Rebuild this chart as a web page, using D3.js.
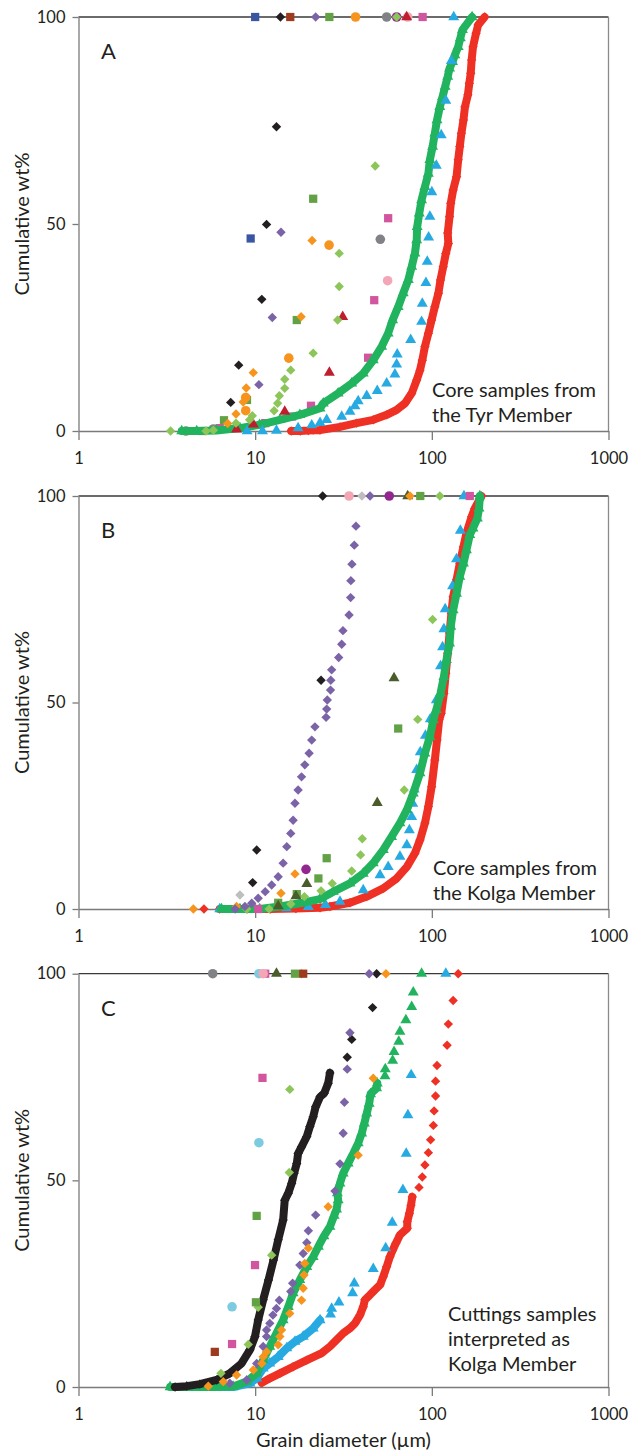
<!DOCTYPE html>
<html>
<head>
<meta charset="utf-8">
<script src="https://cdn.jsdelivr.net/npm/d3@7"></script>
<style>
  body { margin: 0; background: #fff; }
  svg text { font-family: Lato, "Open Sans", sans-serif; fill: #231f20; }
</style>
</head>
<body>
<div id="chart"></div>
<script>
let width = 642;
let height = 1452;
let xLeft = 78.5, xRight = 608.5;

// tick values
let xTicks = [1, 10, 100, 1000];
let yTicks = [0, 50, 100];

// colours used for the sample series
let colors = {
    red: "#ee3124", green: "#22b35e", cyan: "#27aae1", black: "#231f20",
    purple: "#7b63a8", orange: "#f7941d", lightGreen: "#8cc65a", greenSq: "#62a245",
    blueSq: "#3a55a4", brown: "#9e3a1e", gray: "#808285", pink: "#f4a6b7",
    magenta: "#d2559f", darkRed: "#be1e2d", darkPurple: "#92278f", olive: "#4a5c2a",
    lightGray: "#bcbec0", lightBlue: "#7dcbe0"
};

// ---- Panel A: core samples, Tyr Member  [grain diameter µm, cumulative wt%]
let aRed = [[16,0],[18,0],[20,0.1],[21.3,0.2],[23.3,0.2],[30.2,1.0],[37.5,1.9],[46.6,2.7],[55.5,3.9],[63.2,5.1],[70.5,6.7],[76.9,9.1],[82.1,12.3],[85.7,14.7],[88.3,17.1],[91.4,20.4],[95.6,23.6],[99.7,26.8],[104,30.0],[109,33.3],[112,36.5],[116,39.7],[120,42.9],[124,45.3],[123,47.8],[126,51.8],[128,55.0],[132,58.2],[138,61.4],[141,65.5],[144,68.7],[147,71.9],[151,75.1],[154,78.3],[160,81.2],[163,84.0],[166,86.4],[168,89.6],[171,92.8],[178,96.1],[183,98.1],[199,100]];
let aGreen = [[3.84,0],[4.67,0],[6.05,0.1],[8.2,0.7],[10.6,1.5],[13.8,2.7],[17.9,3.9],[23.3,5.5],[24.3,6.7],[29.5,9.1],[35.2,11.5],[40.9,13.9],[46.6,17.1],[52.0,20.4],[56.6,23.6],[60.0,26.8],[64.5,30.0],[68.9,33.3],[73.6,36.5],[76.9,39.7],[80.2,42.9],[82.1,46.1],[82.6,49.3],[84.9,52.6],[87.5,55.8],[91.4,59.0],[95.6,62.2],[97.5,65.5],[101,68.7],[104,71.9],[107,75.1],[111,78.3],[115,80.7],[119,83.2],[123,85.6],[126,87.6],[131,89.2],[135,90.8],[141,92.8],[145,94.9],[149,96.9],[169,100]];
let aCyan = [[9.0,0],[11.0,0],[13.2,0.1],[17.5,0.7],[20.9,1.4],[23.3,2.0],[25.4,2.7],[30.9,3.5],[34.4,4.7],[36.7,6.0],[38.3,7.2],[42.8,8.5],[49.1,9.7],[55.5,11.5],[61.8,13.7],[63.2,16.1],[63.7,18.5],[75.9,22.0],[87.5,26.4],[88.3,30.8],[92.6,35.8],[94.2,40.9],[95.9,46.8],[97.5,51.8],[100,57.7],[106,64.1],[113,71.5],[120,79.8],[129,89.4],[133,100]];
let aBlack = [[7.27,6.9],[8.07,15.9],[10.9,31.8],[11.6,49.9],[13.2,73.5],[13.9,100]];
let aPurple = [[10.5,11.2],[12.5,27.4],[14.0,48.0],[22,100]];
let aBlueSq = [[9.43,46.5],[10.0,100]];
let aBrownSq = [[15.8,100]];
let aGreenSq = [[6.66,2.6],[8.99,7.5],[17.2,26.8],[21.3,56.1],[26.3,100]];
let aOrange = [[6.99,1.8],[7.79,4.1],[8.56,7.0],[8.9,10.4],[9.76,14.1],[18.2,27.6],[21.0,46.0]];
let aOrangeCirc = [[8.84,4.9],[8.84,8.1],[15.5,17.6],[26.2,44.9],[37,100]];
let aLightGreen = [[3.32,0],[5.27,0],[5.8,0.2],[7.79,1.9],[9.3,2.7],[9.64,3.7],[12.8,4.9],[13.4,6.7],[13.7,8.5],[14.7,10.3],[14.7,12.5],[15.9,14.7],[21.3,18.8],[29.3,26.8],[29.9,34.9],[29.9,42.9],[47.8,64.0],[63.2,100]];
let aGrayCirc = [[4.06,0],[5.8,0.5],[51.1,46.3],[55.5,100]];
let aPinkCirc = [[56.2,36.3],[73,100]];
let aMagentaSq = [[5.0,0],[6.3,0.7],[11.4,1.9],[16.2,3.5],[20.7,6.1],[43.6,17.7],[47.2,31.6],[56.6,51.4],[88.7,100]];
let aDarkRedTri = [[7.85,0.4],[9.76,1.6],[14.7,4.7],[26.3,14.1],[31.3,27.6],[72,100]];
let aPurpleCirc = [[63.2,100]];

// ---- Panel B: core samples, Kolga Member
let bRed = [[5.13,0],[6.3,0],[9,0],[12.2,0],[17,0.1],[23.3,0.3],[26.5,0.6],[34.4,1.5],[42.8,3.0],[53.1,5.0],[63.2,7.4],[72.2,10.2],[80.2,13.5],[85.7,16.7],[91.4,20.8],[95.6,24.8],[99.7,29.6],[104,36.1],[107,40.9],[110,45.8],[113,47.4],[117,52.2],[120,57.1],[123,61.9],[126,66.8],[129,71.6],[132,75.6],[138,79.7],[144,83.7],[151,87.7],[157,91.0],[168,95.0],[175,97.0],[191,100]];
let bGreen = [[6.45,0],[8.2,0],[10.6,0],[13.8,0.6],[17.9,1.4],[23.3,2.4],[27.7,4.2],[34.4,6.2],[40.9,8.6],[46.6,11.1],[53.1,14.3],[59.2,17.5],[66.0,20.8],[72.2,24.0],[78.5,28.0],[85.7,32.9],[91.3,37.7],[97.5,41.7],[102,45.8],[106,48.2],[112,52.2],[117,56.2],[121,60.3],[126,64.3],[128,68.4],[132,72.4],[138,76.4],[144,80.5],[151,83.7],[157,86.9],[164,90.6],[171,92.2],[181,94.6],[185,97.0],[187,100]];
let bCyan = [[6.3,0],[10,0],[15,0.2],[20,0.5],[25,1.0],[30.2,1.8],[40.9,4.6],[50.9,8.2],[56.6,10.2],[66,12.7],[72.2,15.5],[74.6,19.1],[76.9,22.3],[78,25.5],[79.5,29],[82.1,33.7],[86,38],[92,42],[98,46],[106,50.6],[112,58.8],[115,63.4],[117,67.8],[119,72.6],[131,78.2],[138,84.7],[145,91.6],[152,100]];
let bPurple = [[7.7,0],[8.75,0.6],[9.56,1.4],[10.4,2.6],[11.4,4.2],[12.4,5.8],[13.5,7.8],[14.4,11.1],[15.1,15.1],[15.9,18.3],[16.4,21.5],[16.8,25.6],[17.5,28.8],[18.3,32.0],[19.1,34.9],[20.2,37.7],[20.9,40.9],[21.8,44.1],[25.2,46.4],[25.4,48.4],[25.6,50.6],[26.7,53.0],[26.8,55.4],[27.1,57.9],[29.7,60.9],[30.9,64.1],[31.4,67.4],[34.0,71.2],[34.7,75.4],[34.8,79.5],[35.3,83.5],[36.4,88.1],[37.2,92.7],[44.7,100]];
let bBlack = [[9.68,6.4],[10.2,14.3],[23.6,55.4],[24.1,100]];
let bLightGray = [[8.2,3.4],[40.2,100]];
let bOrange = [[4.47,0],[7.85,0.6],[14.0,3.8],[16.8,8.5],[75.2,100]];
let bPurpleCirc = [[19.4,9.6],[57.4,100]];
let bGreenSq = [[13.5,1.5],[17.2,3.6],[22.8,7.4],[25.4,12.3],[64.5,43.7],[86,100]];
let bOliveTri = [[13.5,0.7],[17.0,3.1],[19.6,6.1],[49.1,25.7],[61.1,55.9],[73,100]];
let bLightGreen = [[8.95,0],[12.0,0],[15.9,1.2],[19.0,3.0],[23.6,4.4],[27.3,6.2],[35.2,9.2],[39.5,13.1],[40.4,17.0],[69.8,28.8],[83.2,45.9],[101,70.1],[111,100]];
let bMagentaSq = [[10.4,0],[164,100]];
let bPinkCirc = [[34,100]];

// ---- Panel C: cuttings samples interpreted as Kolga Member
let cRed = [[10.9,1.0],[12.1,2.1],[13.8,3.3],[16.4,4.9],[19.6,6.5],[23.8,8.2],[26.5,9.8],[28.9,11.4],[31.5,13.0],[34.4,14.2],[36.7,15.4],[39.2,17.4],[40.9,19.4],[41.8,21.1],[44.7,22.3],[47.6,23.5],[50.9,24.7],[53.1,26.7],[55.5,29.1],[57.9,31.5],[60,33.1],[62.6,34.8],[66,36.8],[72.6,38.4],[72.6,40.0],[74.6,42.0],[76.2,44.0],[77.5,46.0],[84.6,48.3],[88.3,50.8],[91.4,53.7],[95.6,56.7],[98.4,59.8],[102,63.3],[103,66.8],[105,70.4],[105,74.0],[107,77.8],[122,82.7],[124,87.8],[132,93.5],[141,100]];
let cCyan = [[5.0,0],[7.5,0],[9.34,0.9],[10.2,2.1],[11.1,4.5],[12.1,5.7],[13.5,7.3],[15.1,9.4],[16.8,11.0],[18.7,12.2],[21.3,14.2],[23.3,16.2],[26.7,17.6],[27.1,19.0],[29.8,20.5],[35.6,22.7],[36.4,25.1],[46.6,28.6],[54.8,33.6],[59.7,39.8],[68.6,47.7],[71.6,56.5],[73.2,65.8],[76.4,75.5],[120,100]];
let cGreen = [[3.3,0],[4.1,0],[5.8,0],[7.5,0.1],[8.95,1.3],[10.2,3.3],[11.1,6.5],[12.1,9.8],[13.2,13.0],[14.4,16.2],[15.4,19.4],[16.4,22.7],[17.9,25.9],[19.6,29.1],[21.3,31.5],[22.8,34],[24.5,36.5],[26.5,38.8],[28.0,41.5],[28.9,43],[29.5,45.2],[29.2,46.9],[30.2,49.3],[31.5,51.7],[33.6,54.1],[35.9,56.5],[38.3,59.0],[40.1,61.4],[41.5,63.8],[42.8,66.2],[44.2,68.6],[45,70.9],[48.7,72.3],[49.1,73.5],[54.3,75.2],[54.5,76.9],[60,79.0],[61.1,81.1],[65,83.6],[66,86.0],[71.3,88.8],[76.9,92.0],[78.5,95.5],[87.5,100]];
let cBlack = [[3.52,0],[4.1,0.2],[4.86,0.7],[6.05,1.7],[7.18,3.3],[8.37,5.7],[9.34,9.0],[9.98,12.2],[10.4,16.2],[11.1,21.1],[11.9,25.9],[12.7,30.7],[13.5,35.6],[14.4,40.4],[14.7,45.2],[15.4,46.9],[16.1,49.3],[16.6,51.7],[17.2,54.1],[17.5,56.5],[18.3,58.1],[19.6,60.6],[20.4,63.0],[21.3,65.4],[22.0,67.8],[23.3,70.2],[24.6,71.1],[25.9,73.5],[26.5,76.0],[33.2,79.8],[35.2,84.1],[46.2,91.8],[48.7,100]];
let cPurple = [[7.18,0.9],[8.95,1.7],[10.2,5.7],[11.1,9.8],[11.6,12.2],[11.6,13.8],[12.1,15.4],[12.6,17.4],[13.2,19.0],[13.7,21.0],[15.9,23.1],[16.3,25.1],[17.9,29.5],[18.7,32.3],[19.6,34.9],[20.0,37.8],[22.0,41.6],[28.3,47.4],[30.2,54.0],[31.5,61.4],[32.0,68.9],[33.2,76.9],[34.4,85.7],[44.2,100]];
let cOrange = [[5.43,0.2],[6.6,1.3],[7.85,2.9],[9.76,4.1],[10.9,5.7],[11.1,7.3],[11.6,8.5],[13.5,10.2],[13.8,12.2],[14.1,13.8],[15.7,17.8],[18.3,21.0],[18.7,23.9],[18.9,27.1],[19.1,29.9],[20.0,33.6],[25.9,43.6],[38.3,56.1],[46.6,74.7],[55,100]];
let cLightGreen = [[6.4,3.3],[9.14,10.3],[10.4,19.3],[12.4,31.9],[15.6,51.9],[15.7,72.0],[18.3,100]];
let cGreenSq = [[10.1,20.5],[10.2,41.4],[16.8,100]];
let cMagentaSq = [[7.4,10.4],[9.98,29.5],[11.0,74.8],[11.4,100]];
let cLightBlueCirc = [[7.4,19.4],[10.5,59.1],[10.5,100]];
let cBrownSq = [[5.91,8.5],[18.7,100]];
let cOliveTri = [[13.2,100]];
let cPinkCirc = [[11.1,100]];
let cGrayCirc = [[5.75,100]];

// series per panel, in drawing order; band = draw a filled trail up to this wt%
let panels = [
    {
        label: "A", top: 17, bottom: 431,
        note: ["Core samples from", "the Tyr Member"], noteX: 432, noteY: 397,
        series: [
            {data: aMagentaSq, shape: "square", color: colors.magenta},
            {data: aGrayCirc, shape: "circle", color: colors.gray},
            {data: aRed, shape: "diamond", color: colors.red, band: 100},
            {data: aGreen, shape: "triangle", color: colors.green, band: 100},
            {data: aCyan, shape: "triangle", color: colors.cyan},
            {data: aPurpleCirc, shape: "circle", color: colors.darkPurple},
            {data: aPinkCirc, shape: "circle", color: colors.pink},
            {data: aDarkRedTri, shape: "triangle", color: colors.darkRed},
            {data: aLightGreen, shape: "diamond", color: colors.lightGreen},
            {data: aGreenSq, shape: "square", color: colors.greenSq},
            {data: aOrangeCirc, shape: "circle", color: colors.orange},
            {data: aOrange, shape: "diamond", color: colors.orange},
            {data: aBlueSq, shape: "square", color: colors.blueSq},
            {data: aBrownSq, shape: "square", color: colors.brown},
            {data: aPurple, shape: "diamond", color: colors.purple},
            {data: aBlack, shape: "diamond", color: colors.black}
        ]
    },
    {
        label: "B", top: 496, bottom: 909,
        note: ["Core samples from", "the Kolga Member"], noteX: 433, noteY: 875,
        series: [
            {data: bRed, shape: "diamond", color: colors.red, band: 100, bandFrom: 6},
            {data: bCyan, shape: "triangle", color: colors.cyan},
            {data: bGreen, shape: "triangle", color: colors.green, band: 100},
            {data: bMagentaSq, shape: "square", color: colors.magenta},
            {data: bLightGreen, shape: "diamond", color: colors.lightGreen},
            {data: bGreenSq, shape: "square", color: colors.greenSq},
            {data: bOliveTri, shape: "triangle", color: colors.olive},
            {data: bPurpleCirc, shape: "circle", color: colors.darkPurple},
            {data: bOrange, shape: "diamond", color: colors.orange},
            {data: bPinkCirc, shape: "circle", color: colors.pink},
            {data: bLightGray, shape: "diamond", color: colors.lightGray},
            {data: bPurple, shape: "diamond", color: colors.purple},
            {data: bBlack, shape: "diamond", color: colors.black}
        ]
    },
    {
        label: "C", top: 973.7, bottom: 1387,
        note: ["Cuttings samples", "interpreted as", "Kolga Member"], noteX: 448, noteY: 1321,
        series: [
            {data: cRed, shape: "diamond", color: colors.red, band: 46},
            {data: cCyan, shape: "triangle", color: colors.cyan, band: 17},
            {data: cGreen, shape: "triangle", color: colors.green, band: 74},
            {data: cBlack, shape: "diamond", color: colors.black, band: 77},
            {data: cPurple, shape: "diamond", color: colors.purple},
            {data: cOrange, shape: "diamond", color: colors.orange},
            {data: cLightGreen, shape: "diamond", color: colors.lightGreen},
            {data: cGreenSq, shape: "square", color: colors.greenSq},
            {data: cMagentaSq, shape: "square", color: colors.magenta},
            {data: cLightBlueCirc, shape: "circle", color: colors.lightBlue},
            {data: cBrownSq, shape: "square", color: colors.brown},
            {data: cOliveTri, shape: "triangle", color: colors.olive},
            {data: cPinkCirc, shape: "circle", color: colors.pink},
            {data: cGrayCirc, shape: "circle", color: colors.gray}
        ]
    }
];

let symbols = {
    diamond: d3.symbol(d3.symbolSquare, 44),
    triangle: d3.symbol(d3.symbolTriangle, 52),
    square: d3.symbol(d3.symbolSquare, 68),
    circle: d3.symbol(d3.symbolCircle, 72)
};

let svg = d3.select("#chart")
    .append("svg")
    .attr("width", width)
    .attr("height", height);

let xScale = d3.scaleLog()
    .domain([1, 1000])
    .range([xLeft, xRight]);

panels.forEach(function (p) {
    let g = svg.append("g");

    let yScale = d3.scaleLinear()
        .domain([0, 100])
        .range([p.bottom, p.top]);

    // frame: dark top edge, grey right edge
    g.append("line")
        .attr("x1", xLeft).attr("x2", xRight)
        .attr("y1", p.top).attr("y2", p.top)
        .attr("stroke", "#3a3a3a").attr("stroke-width", 1.3);
    g.append("line")
        .attr("x1", xRight).attr("x2", xRight)
        .attr("y1", p.top).attr("y2", p.bottom)
        .attr("stroke", "#8a8a8a").attr("stroke-width", 1.3);

    let xAxis = d3.axisBottom(xScale)
        .tickValues(xTicks)
        .tickFormat(d3.format("d"))
        .tickSize(9)
        .tickSizeOuter(0)
        .tickPadding(12);

    let yAxis = d3.axisLeft(yScale)
        .tickValues(yTicks)
        .tickSize(6)
        .tickSizeOuter(0)
        .tickPadding(7);

    let gx = g.append("g")
        .attr("transform", "translate(0," + p.bottom + ")")
        .call(xAxis);
    let gy = g.append("g")
        .attr("transform", "translate(" + xLeft + ",0)")
        .call(yAxis);

    [gx, gy].forEach(function (ax) {
        ax.selectAll("path, line").attr("stroke", "#7a7a7a").attr("stroke-width", 1.3);
        ax.selectAll("text").style("font-size", "16.5px").attr("fill", "#231f20");
    });

    // series
    p.series.forEach(function (s) {
        if (s.band !== undefined) {
            let from = s.bandFrom || 0;
            let trail = s.data.filter(d => d[1] <= s.band && d[0] >= from);
            g.append("path")
                .datum(trail)
                .attr("fill", "none")
                .attr("stroke", s.color)
                .attr("stroke-width", 8)
                .attr("stroke-linejoin", "round")
                .attr("stroke-linecap", "round")
                .attr("d", d3.line()
                    .x(d => xScale(d[0]))
                    .y(d => yScale(d[1])));
        }
        g.selectAll(null)
            .data(s.data)
            .enter()
            .append("path")
            .attr("d", symbols[s.shape])
            .attr("fill", s.color)
            .attr("transform", function (d) {
                let t = "translate(" + xScale(d[0]) + "," + yScale(d[1]) + ")";
                return s.shape === "diamond" ? t + " rotate(45)" : t;
            });
    });

    // panel letter
    g.append("text")
        .attr("x", 101)
        .attr("y", p.top + 42)
        .style("font-size", "22px")
        .text(p.label);

    // note
    g.append("text")
        .selectAll("tspan")
        .data(p.note)
        .enter()
        .append("tspan")
        .attr("x", p.noteX)
        .attr("y", (d, i) => p.noteY + i * 25)
        .style("font-size", "20px")
        .text(d => d);

    // y title
    g.append("text")
        .attr("transform", "translate(29," + ((p.top + p.bottom) / 2) + ") rotate(-90)")
        .attr("text-anchor", "middle")
        .style("font-size", "20px")
        .text("Cumulative wt%");
});

svg.append("text")
    .attr("x", (xLeft + xRight) / 2)
    .attr("y", 1447)
    .attr("text-anchor", "middle")
    .style("font-size", "20px")
    .text("Grain diameter (µm)");
</script>
</body>
</html>
